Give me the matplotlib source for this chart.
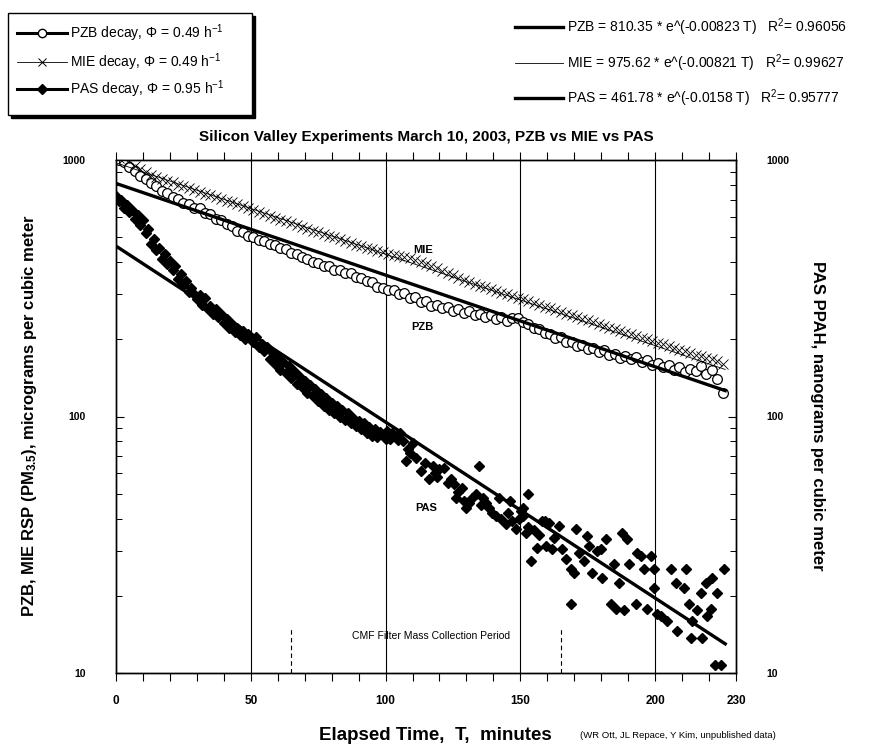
import numpy as np
import matplotlib
matplotlib.use("Agg")
import matplotlib.pyplot as plt
from matplotlib.lines import Line2D
from matplotlib.patches import Rectangle
from matplotlib.ticker import FixedLocator, FixedFormatter, LogLocator, NullFormatter

plt.rcParams['font.family'] = ['Liberation Sans', 'DejaVu Sans']
plt.rcParams['mathtext.fontset'] = 'custom'
plt.rcParams['mathtext.rm'] = 'Liberation Sans'
plt.rcParams['mathtext.it'] = 'Liberation Sans:italic'
plt.rcParams['mathtext.bf'] = 'Liberation Sans:bold'

# PZB and MIE, one reading every 2 minutes (T = 1, 3, ..., 225)
pzb_t = list(range(1, 226, 2))
pzb_v = [1000, 985, 935, 905, 865, 845, 812, 795, 758, 745,
         716, 705, 682, 672, 650, 648, 622, 615, 590, 585,
         562, 553, 530, 524, 505, 500, 488, 485, 470, 466,
         452, 448, 433, 431, 417, 412, 399, 398, 385, 386,
         373, 372, 362, 363, 350, 347, 336, 334, 320, 318,
         310, 312, 300, 302, 290, 292, 279, 282, 270, 272,
         264, 268, 258, 262, 253, 257, 248, 252, 244, 249,
         240, 245, 236, 242, 243, 234, 229, 222, 220, 211,
         210, 203, 205, 195, 196, 189, 190, 183, 185, 179,
         181, 174, 176, 169, 172, 168, 171, 163, 166, 159,
         162, 156, 159, 152, 156, 149, 153, 151, 157, 147,
         152, 140, 123]

mie_t = list(range(1, 226, 2))
mie_v = [1015, 1020, 990, 950, 920, 895, 875, 860, 842, 830,
         818, 802, 790, 775, 765, 750, 740, 728, 716, 705,
         695, 684, 672, 660, 648, 636, 625, 615, 606, 596,
         586, 576, 566, 557, 548, 540, 531, 523, 515, 507,
         499, 491, 483, 475, 468, 461, 455, 449, 443, 437,
         431, 427, 424, 420, 414, 407, 400, 393, 386, 378,
         370, 362, 355, 348, 341, 335, 329, 324, 319, 314,
         309, 304, 299, 295, 290, 286, 281, 277, 273, 268,
         264, 260, 256, 252, 248, 244, 240, 237, 233, 229,
         226, 222, 219, 216, 212, 209, 206, 203, 200, 197,
         194, 191, 188, 185, 182, 180, 177, 174, 172, 169,
         167, 165, 160]

# PAS, first 0..100 min one per minute, then read point by point
pas_t = list(range(0, 101)) + [
    100.5, 101.5, 102.5, 103.5, 104.5, 105.5, 106.5, 107.6, 108.5, 109, 110, 111.4, 113,
    114.5, 116, 117.5, 118.5, 119, 120, 121.8, 123, 124.4, 125.5, 126, 127, 128.5, 129,
    130, 131, 132, 133.6, 134.8, 135.5, 136, 137.3, 138.5, 139.5, 141, 142, 143, 144.7,
    145.5, 146, 147, 148.4, 149.5, 150.4, 150.8, 151, 152, 152.7, 153, 154, 155, 156,
    157, 158, 159, 159.6, 160.7, 161.9, 162.6, 164.4, 165.6, 167, 168.9, 168.9, 170,
    170.7, 171.8, 173.7, 174.8, 175.6, 176.7, 178.5, 180, 180.4, 181.8, 183.7, 184.8,
    185.6, 186.7, 187.8, 188.5, 189.6, 190.4, 193, 193.3, 194.8, 196, 197, 198.5, 199.6,
    199.6, 200.8, 202, 204.4, 206, 207.8, 208.2, 210.7, 211.5, 212.6, 213.3, 213.7,
    215.6, 217, 217.4, 218.9, 219.3, 220.7, 221.1, 222.2, 222.9, 224.4, 225.6]
pas_v = [725, 690, 700, 650, 668, 628, 640, 590, 610, 560,
         585, 520, 540, 470, 490, 445, 455, 412, 430, 392,
         405, 372, 385, 345, 360, 325, 338, 305, 318, 300,
         286, 298, 272, 290, 262, 270, 252, 262, 244, 252,
         232, 240, 222, 230, 214, 222, 208, 215, 200, 210,
         203, 196, 205, 186, 192, 180, 186, 168, 178, 160,
         170, 152, 163, 148, 158, 141, 150, 134, 144, 130,
         138, 124, 133, 120, 128, 115, 122, 110, 118, 106,
         113, 103, 110, 100, 106, 97, 103, 94, 99, 92,
         96, 89, 94, 86, 91, 84, 89, 83, 87, 85, 82] + [
    88, 82, 86, 84, 81, 86, 80, 67, 75, 72, 79, 69, 61.5,
    66, 57, 64, 60, 58, 62.7, 63, 55, 57, 54.8, 48, 51, 52.8, 47,
    44, 46, 48, 50, 64, 45, 48, 46, 44, 42, 41, 48.3, 40, 38,
    42, 47, 39, 36.5, 40, 43, 44, 41, 35.2, 50, 37, 27.4, 36, 30.8,
    34.5, 39, 39.3, 31.3, 38.5, 30.5, 33.7, 37.5, 30.5, 27.9, 25.5, 18.6, 24.6,
    36.5, 29.4, 27.4, 34.3, 31.3, 24.6, 30, 30.5, 23.5, 33.4, 18.6, 26.6,
    17.8, 22.5, 35.2, 17.6, 33.4, 26.6, 18.6, 29.4, 28.6, 25.5, 17.8, 28.6, 25.5,
    21.5, 17, 16.7, 15.9, 25.5, 22.5, 14.6, 21.5, 25.5, 18.6, 13.7, 15.9,
    17.6, 20.5, 13.7, 22.5, 16.7, 17.8, 23.5, 10.7, 20.5, 10.7, 25.5]

# exponential fits printed on the chart: a * e^(b T), R^2
fit_names = ['PZB', 'MIE', 'PAS']
fit_a = [810.35, 975.62, 461.78]
fit_b = [-0.00823, -0.00821, -0.0158]
fit_r2 = ['0.96056', '0.99627', '0.95777']
fit_lw = [2.4, 0.6, 2.4]

W, H = 888, 746
fig = plt.figure(figsize=(W / 100, H / 100), dpi=100)


def fx(px):
    return px / W


def fy(py):
    return 1 - py / H


ax = fig.add_axes([fx(116), fy(673), fx(736) - fx(116), fy(160) - fy(673)])
ax.set_yscale('log')
ax.set_xlim(0, 230)
ax.set_ylim(10, 1000)

for x in [50, 100, 150, 200]:
    ax.axvline(x, color='black', lw=0.8, zorder=1)

ax.plot(pzb_t, pzb_v, ls='none', marker='o', ms=7, mfc='white', mec='black',
        mew=0.9, zorder=3)
ax.plot(mie_t, mie_v, ls='none', marker='x', ms=7.5, color='black', mew=0.6, zorder=3)
ax.plot(pas_t, pas_v, ls='none', marker='D', ms=5, color='black', zorder=3)

tt = np.linspace(0, 226, 200)
for a, b, lw in zip(fit_a, fit_b, fit_lw):
    ax.plot(tt, a * np.exp(b * tt), color='black', lw=lw, zorder=4)

# filter collection period markers
for x in [65, 165]:
    ax.plot([x, x], [10, 15], color='black', lw=0.8, ls=(0, (4, 3)), zorder=2)
ax.text(117, 13.9, 'CMF Filter Mass Collection Period', fontsize=7.5,
        ha='center', va='center', zorder=0)

ax.text(114, 445, 'MIE', fontsize=8, fontweight='bold', ha='center', va='center')
ax.text(113.5, 223, 'PZB', fontsize=8, fontweight='bold', ha='center', va='center')
ax.text(115, 44, 'PAS', fontsize=8, fontweight='bold', ha='center', va='center')

ax.xaxis.set_major_locator(FixedLocator([0, 50, 100, 150, 200, 230]))
ax.xaxis.set_minor_locator(FixedLocator(list(range(0, 231, 10))))
ax.tick_params(axis='x', which='both', direction='out', top=True, length=6,
               width=0.8, pad=10, labelsize=8.5)
for lab in ax.get_xticklabels():
    lab.set_fontweight('bold')

yticks = [10, 100, 1000]
ylabels = ['10', '100', '1000']
ax2 = ax.twinx()
ax2.set_yscale('log')
ax2.set_ylim(10, 1000)
for a in (ax, ax2):
    a.yaxis.set_major_locator(FixedLocator(yticks))
    a.yaxis.set_major_formatter(FixedFormatter(ylabels))
    a.yaxis.set_minor_locator(LogLocator(base=10, subs=np.arange(2, 10)))
    a.yaxis.set_minor_formatter(NullFormatter())
    a.tick_params(axis='y', which='major', direction='in', length=6, width=0.8,
                  pad=22, labelsize=7.5)
    a.tick_params(axis='y', which='minor', direction='in', length=4, width=0.7)
    for lab in a.get_yticklabels():
        lab.set_fontweight('bold')
ax.tick_params(axis='y', which='both', right=False)
for a in (ax, ax2):
    for s in a.spines.values():
        s.set_linewidth(1.0)

ax.set_title('Silicon Valley Experiments March 10, 2003, PZB vs MIE vs PAS',
             fontsize=11, fontweight='bold', pad=14)
fig.text(fx(30), fy(416), 'PZB, MIE RSP (PM$_{\\mathbf{3.5}}$), micrograms per cubic meter',
         rotation=90, fontsize=12, fontweight='bold', ha='center', va='center')
fig.text(fx(817), fy(416), 'PAS PPAH, nanograms per cubic meter', rotation=270,
         fontsize=12, fontweight='bold', ha='center', va='center')
fig.text(fx(435), fy(735), 'Elapsed Time,  T,  minutes', fontsize=13.5,
         fontweight='bold', ha='center', va='center')
fig.text(fx(580), fy(735), '(WR Ott, JL Repace, Y Kim, unpublished data)',
         fontsize=6.8, ha='left', va='center')

# decay legend box (top left) with shadow
fig.add_artist(Rectangle((fx(11), fy(118)), fx(252) - fx(8), fy(13) - fy(115),
                         transform=fig.transFigure, facecolor='black', edgecolor='black'))
fig.add_artist(Rectangle((fx(8), fy(115)), fx(252) - fx(8), fy(13) - fy(115),
                         transform=fig.transFigure, facecolor='white', edgecolor='black',
                         lw=1.0))
leg_rows = [33, 62, 89]
leg_text = ['PZB decay, $\\Phi$ = 0.49 h$^{-1}$',
            'MIE decay, $\\Phi$ = 0.49 h$^{-1}$',
            'PAS decay, $\\Phi$ = 0.95 h$^{-1}$']
leg_lw = [2.2, 0.6, 2.2]
leg_marker = [dict(marker='o', ms=6, mfc='white', mec='black', mew=1.0),
              dict(marker='x', ms=6, mfc='black', mec='black', mew=0.7),
              dict(marker='D', ms=5, mfc='black', mec='black', mew=1.0)]
for yy, txt, lw, mk in zip(leg_rows, leg_text, leg_lw, leg_marker):
    fig.add_artist(Line2D([fx(17), fx(67)], [fy(yy), fy(yy)], color='black', lw=lw,
                          transform=fig.transFigure))
    fig.add_artist(Line2D([fx(42)], [fy(yy)], ls='none', transform=fig.transFigure, **mk))
    fig.text(fx(70), fy(yy), txt, fontsize=10, ha='left', va='center')

# fit legend (top right)
fit_rows = [27, 63, 98]
for yy, name, a, b, r2, lw in zip(fit_rows, fit_names, fit_a, fit_b, fit_r2, fit_lw):
    fig.add_artist(Line2D([fx(515), fx(563)], [fy(yy), fy(yy)], color='black',
                          lw=lw, transform=fig.transFigure))
    fig.text(fx(567), fy(yy), f'{name} = {a:.2f} * e^({b:g} T)   R$^2$= {r2}',
             fontsize=10, ha='left', va='center')

fig.savefig('out.png', dpi=100)
